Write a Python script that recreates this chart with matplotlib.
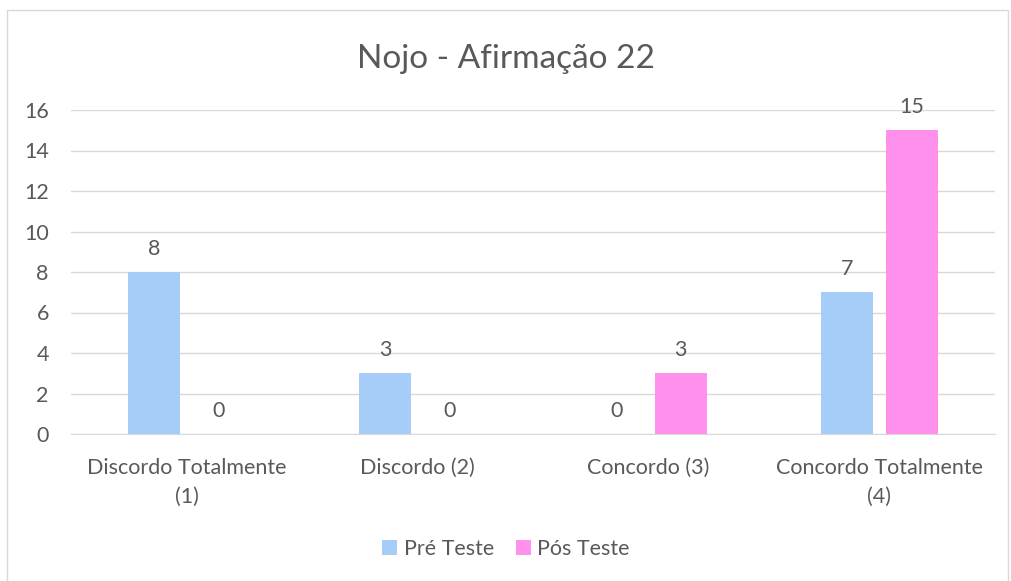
import matplotlib
matplotlib.use("Agg")
import matplotlib.pyplot as plt
import numpy as np
from matplotlib.patches import Rectangle

categories = ["Discordo Totalmente\n(1)", "Discordo (2)", "Concordo (3)", "Concordo Totalmente\n(4)"]
pre_teste = [8, 3, 0, 7]
pos_teste = [0, 0, 3, 15]
series_names = ["Pré Teste", "Pós Teste"]
title = "Nojo - Afirmação 22"
yticks = [0, 2, 4, 6, 8, 10, 12, 14, 16]

plt.rcParams['font.family'] = ['Lato', 'DejaVu Sans']
txt = '#595959'
c_pre = '#A6CDF8'
c_pos = '#FF90EC'
fs = 15.5

W, H = 1012, 581
fig = plt.figure(figsize=(W/100, H/100), dpi=100)
fig.patches.append(Rectangle((7/W, -0.05), (1008-7)/W, 1.05 - 10/H, transform=fig.transFigure,
                             fill=False, edgecolor='#D9D9D9', linewidth=1))

ax = fig.add_axes([71/W, 1 - 434/H, (995-71)/W, (434-110)/H])
x = np.arange(len(categories))
bw = 0.225
off = 0.14
b1 = ax.bar(x - off, pre_teste, bw, color=c_pre, label=series_names[0], zorder=3)
b2 = ax.bar(x + off, pos_teste, bw, color=c_pos, label=series_names[1], zorder=3)
for bars, vals in ((b1, pre_teste), (b2, pos_teste)):
    for r, v in zip(bars, vals):
        ax.text(r.get_x() + r.get_width()/2, v + 0.65, str(v), ha='center', va='bottom',
                fontsize=fs, color=txt)

ax.set_xlim(-0.5, len(categories) - 0.5)
ax.set_ylim(0, 16)
ax.set_yticks(yticks)
ax.set_yticklabels([str(t) for t in yticks], fontsize=fs, color=txt)
ax.set_xticks(x)
ax.set_xticklabels(categories, fontsize=fs, color=txt, linespacing=1.6)
ax.grid(axis='y', color='#D9D9D9', linewidth=1, zorder=0)
for s in ['top', 'right', 'left']:
    ax.spines[s].set_visible(False)
ax.spines['bottom'].set_color('#D9D9D9')
ax.tick_params(axis='both', length=0)
ax.tick_params(axis='y', pad=16)
ax.tick_params(axis='x', pad=17)

fig.text(0.5, 1 - 59/H, title, ha='center', va='center', fontsize=24, color=txt)
leg = fig.legend(loc='center', bbox_to_anchor=(0.5, 1 - 549/H), ncol=2, frameon=False,
                 fontsize=fs, handlelength=0.7, handleheight=0.7, handletextpad=0.3,
                 columnspacing=1.0, labelcolor=txt)

fig.savefig("out.png", dpi=100)
